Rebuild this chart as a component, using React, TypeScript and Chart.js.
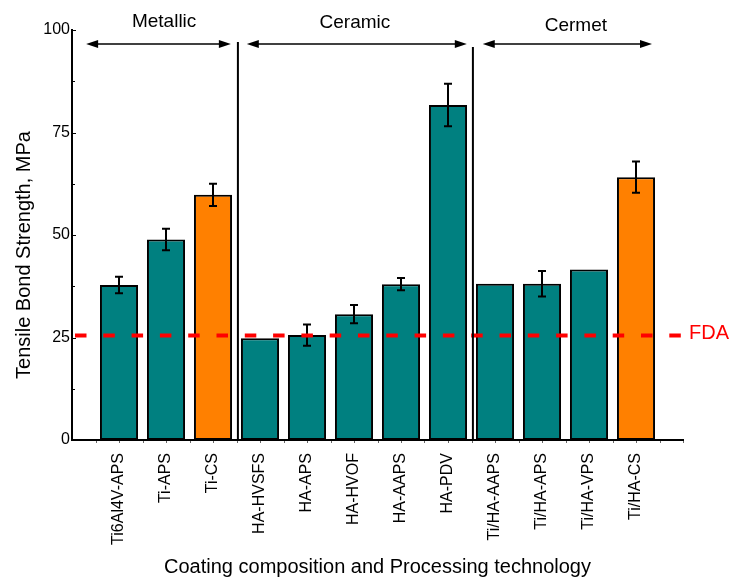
import React, { useEffect, useRef } from 'react';
import { Chart, registerables } from 'chart.js';

Chart.register(...registerables);

const categories = [
  'Ti6Al4V-APS', 'Ti-APS', 'Ti-CS', 'HA-HVSFS', 'HA-APS', 'HA-HVOF',
  'HA-AAPS', 'HA-PDV', 'Ti/HA-AAPS', 'Ti/HA-APS', 'Ti/HA-VPS', 'Ti/HA-CS',
];
const strengths = [37.8, 48.9, 59.8, 24.8, 25.6, 30.7, 38.0, 81.7, 38.1, 38.1, 41.6, 64.1];
const errors = [2.0, 2.6, 2.7, 0, 2.6, 2.2, 1.5, 5.2, 0, 3.1, 0, 3.8];
const coldSprayed = [false, false, true, false, false, false, false, false, false, false, false, true];
const groupNames = ['Metallic', 'Ceramic', 'Cermet'];
const yTickValues = [0, 25, 50, 75, 100];
const fdaLimit = 25.5;
const yTitle = 'Tensile Bond Strength, MPa';
const xTitle = 'Coating composition and Processing technology';

const FONT = '"Liberation Sans", Arial, Helvetica, sans-serif';
const TEAL = '#008080';
const ORANGE = '#FF8000';

// annotation layout (category units / pixel offsets)
const arrowStarts = [-0.7, 2.72, 7.74];
const arrowEnds = [2.38, 7.4, 11.34];
const labelCenters = [0.96, 5.02, 9.72];
const labelOffsets = [-8, -7, -4];
const separators = [2.53, 7.53];
const separatorTops = [42, 47];

const overlay = {
  id: 'overlay',
  afterDatasetsDraw(chart: any) {
    const { ctx, chartArea } = chart;
    const x = chart.scales.x;
    const y = chart.scales.y;
    ctx.save();

    // y title (drawn manually to match its offset)
    ctx.save();
    ctx.translate(24, 255);
    ctx.rotate(-Math.PI / 2);
    ctx.fillStyle = '#000';
    ctx.font = `20px ${FONT}`;
    ctx.textAlign = 'center';
    ctx.textBaseline = 'middle';
    ctx.fillText(yTitle, 0, 0);
    ctx.restore();

    // inner y ticks
    ctx.strokeStyle = '#000';
    ctx.lineWidth = 1;
    for (let v = 0; v <= 100; v += 12.5) {
      const py = Math.round(y.getPixelForValue(v)) + 0.5;
      const len = v % 25 === 0 ? 4 : 3;
      ctx.beginPath();
      ctx.moveTo(chartArea.left, py);
      ctx.lineTo(chartArea.left + len, py);
      ctx.stroke();
    }
    // small x ticks
    ctx.strokeStyle = '#666';
    for (let v = -0.5; v <= 12; v += 0.5) {
      const px = Math.round(x.getPixelForValue(v)) + 0.5;
      ctx.beginPath();
      ctx.moveTo(px, chartArea.bottom + 1);
      ctx.lineTo(px, chartArea.bottom + 3);
      ctx.stroke();
    }

    // error bars
    ctx.strokeStyle = '#000';
    ctx.lineWidth = 2;
    strengths.forEach((v, i) => {
      const e = errors[i];
      if (!e) return;
      const px = x.getPixelForValue(i);
      const top = y.getPixelForValue(v + e);
      const bot = y.getPixelForValue(v - e);
      ctx.beginPath();
      ctx.moveTo(px, top);
      ctx.lineTo(px, bot);
      ctx.moveTo(px - 4, top);
      ctx.lineTo(px + 4, top);
      ctx.moveTo(px - 4, bot);
      ctx.lineTo(px + 4, bot);
      ctx.stroke();
    });

    // FDA line
    const fy = y.getPixelForValue(fdaLimit);
    ctx.strokeStyle = '#FF0000';
    ctx.lineWidth = 4;
    ctx.setLineDash([11.5, 16.8]);
    ctx.beginPath();
    ctx.moveTo(chartArea.left + 3, fy);
    ctx.lineTo(chartArea.right, fy);
    ctx.stroke();
    ctx.setLineDash([]);
    ctx.fillStyle = '#FF0000';
    ctx.font = `20px ${FONT}`;
    ctx.textAlign = 'left';
    ctx.textBaseline = 'middle';
    ctx.fillText('FDA', chartArea.right + 6, fy - 2);

    // separators
    ctx.strokeStyle = '#000';
    ctx.lineWidth = 2;
    separators.forEach((s, i) => {
      const px = x.getPixelForValue(s);
      ctx.beginPath();
      ctx.moveTo(px, separatorTops[i]);
      ctx.lineTo(px, chartArea.bottom);
      ctx.stroke();
    });

    // arrows and group labels
    const ay = chartArea.top + 14;
    ctx.lineWidth = 1.5;
    ctx.fillStyle = '#000';
    groupNames.forEach((name, i) => {
      const x0 = x.getPixelForValue(arrowStarts[i]);
      const x1 = x.getPixelForValue(arrowEnds[i]);
      ctx.beginPath();
      ctx.moveTo(x0 + 6, ay);
      ctx.lineTo(x1 - 6, ay);
      ctx.stroke();
      ctx.beginPath();
      ctx.moveTo(x0, ay);
      ctx.lineTo(x0 + 12, ay - 4);
      ctx.lineTo(x0 + 12, ay + 4);
      ctx.closePath();
      ctx.fill();
      ctx.beginPath();
      ctx.moveTo(x1, ay);
      ctx.lineTo(x1 - 12, ay - 4);
      ctx.lineTo(x1 - 12, ay + 4);
      ctx.closePath();
      ctx.fill();
      ctx.font = `19px ${FONT}`;
      ctx.textAlign = 'center';
      ctx.textBaseline = 'middle';
      ctx.fillText(name, x.getPixelForValue(labelCenters[i]), chartArea.top + labelOffsets[i]);
    });

    ctx.restore();
  },
};

export default function App() {
  const ref = useRef<HTMLCanvasElement>(null);

  useEffect(() => {
    if (!ref.current) return;
    Chart.defaults.font.family = FONT;
    const chart = new Chart(ref.current, {
      type: 'bar',
      data: {
        datasets: [
          {
            data: strengths.map((v, i) => ({ x: i, y: v })),
            backgroundColor: coldSprayed.map((c) => (c ? ORANGE : TEAL)),
            borderColor: '#000',
            borderWidth: 2,
            borderSkipped: false,
            barPercentage: 0.81,
            categoryPercentage: 1,
          } as any,
        ],
      },
      options: {
        animation: false,
        responsive: false,
        layout: { padding: { top: 30, right: 47, bottom: 0, left: 0 } },
        plugins: { legend: { display: false }, tooltip: { enabled: false } },
        scales: {
          x: {
            type: 'linear',
            min: -1,
            max: 12,
            offset: false,
            grid: { display: false, drawTicks: false },
            border: { display: true, color: '#000', width: 2 },
            ticks: {
              stepSize: 1,
              autoSkip: false,
              minRotation: 90,
              maxRotation: 90,
              padding: 13,
              color: '#000',
              font: { size: 16 },
              callback: (v: any) => categories[Math.round(Number(v))] ?? '',
            },
            title: {
              display: true,
              text: xTitle,
              color: '#000',
              font: { size: 20 },
              padding: { top: 0, bottom: 5 },
            },
            afterFit: (s: any) => {
              s.height = 144;
            },
          },
          y: {
            min: 0,
            max: 100,
            afterBuildTicks: (s: any) => {
              s.ticks = yTickValues.map((v) => ({ value: v }));
            },
            grid: { display: false, drawTicks: false },
            border: { display: true, color: '#000', width: 2 },
            ticks: { padding: 2, color: '#000', font: { size: 16 } },
            title: { display: false },
            afterFit: (s: any) => {
              s.width = 72;
            },
          },
        },
      } as any,
      plugins: [overlay],
    });
    return () => chart.destroy();
  }, []);

  return (
    <div style={{ position: 'fixed', left: 0, top: 0, width: 730, height: 584, background: '#fff' }}>
      <canvas ref={ref} width={730} height={584} />
    </div>
  );
}
